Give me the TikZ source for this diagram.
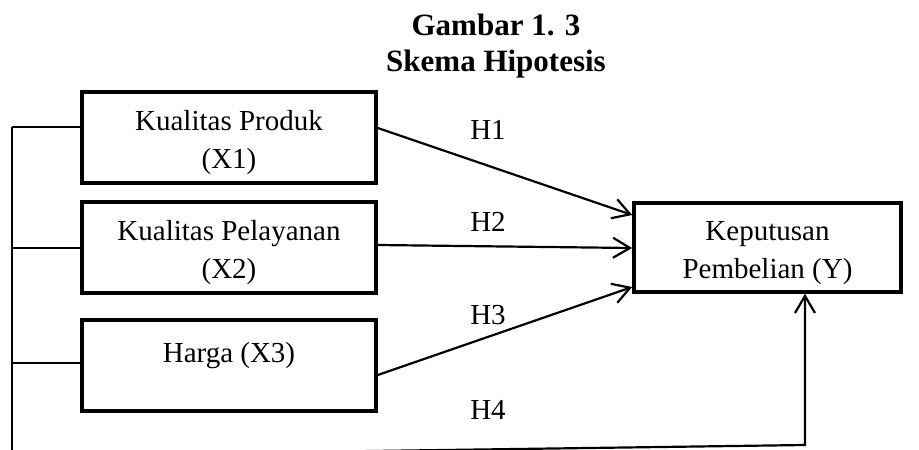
\documentclass[tikz,border=0pt]{standalone}
\usepackage{fontspec}
\setmainfont{Liberation Serif}
\usetikzlibrary{arrows.meta,calc}
\begin{document}
\begin{tikzpicture}[x=1pt,y=-1pt,
  varbox/.style={draw,line width=3.6pt,minimum width=294pt,minimum height=91pt,inner sep=0pt,align=center,font=\fontsize{29}{38.5}\selectfont},
  twoline/.style={text height=68pt,text depth=6pt},
  hyp/.style={line width=2.2pt,-{Straight Barb[length=17pt,width=20pt,line width=2.2pt]}},
  link/.style={line width=1.6pt},
  hlabel/.style={font=\fontsize{29}{34}\selectfont,inner sep=0pt}]
\useasboundingbox (0,0) rectangle (919,450);
\clip (0,0) rectangle (919,450);
\node[font=\fontsize{31}{36}\selectfont\bfseries,align=center,anchor=north,inner sep=0pt] (title) at (496,14) {Gambar 1. 3\\Skema Hipotesis};
\node[varbox,twoline] (x1) at (229,137.5) {Kualitas Produk\\(X1)};
\node[varbox,twoline] (x2) at (229,247.5) {Kualitas Pelayanan\\(X2)};
\node[varbox,text height=20pt,text depth=27pt] (x3) at (229,365.5) {Harga (X3)};
\node[varbox,twoline,minimum width=267pt,minimum height=89pt] (y) at (767.5,247.5) {Keputusan\\Pembelian (Y)};
\node[hlabel] (h1) at (488,130) {H1};
\node[hlabel] (h2) at (488,222) {H2};
\node[hlabel] (h3) at (488,315) {H3};
\node[hlabel] (h4) at (488,410) {H4};
\coordinate (t1) at (12,127);
\coordinate (t2) at (12,248);
\coordinate (t3) at (12,363);
\coordinate (tb) at (12,456);
\coordinate (c4) at (805,445);
\draw[link] (t1) -- (tb);
\draw[link] (t1) -- (t1 -| x1.west);
\draw[link] (t2) -- (t2 -| x2.west);
\draw[link] (t3) -- (t3 -| x3.west);
\draw[hyp] ([yshift=9.5pt]x1.east) -- ([yshift=32.5pt]y.west);
\draw[hyp] ([yshift=2.5pt]x2.east) -- ([yshift=-0.5pt]y.west);
\draw[hyp] ([yshift=-9.5pt]x3.east) -- ([yshift=-39.5pt]y.west);
\draw[hyp] (tb) -- (c4) -- (c4 |- y.south);
\end{tikzpicture}
\end{document}
